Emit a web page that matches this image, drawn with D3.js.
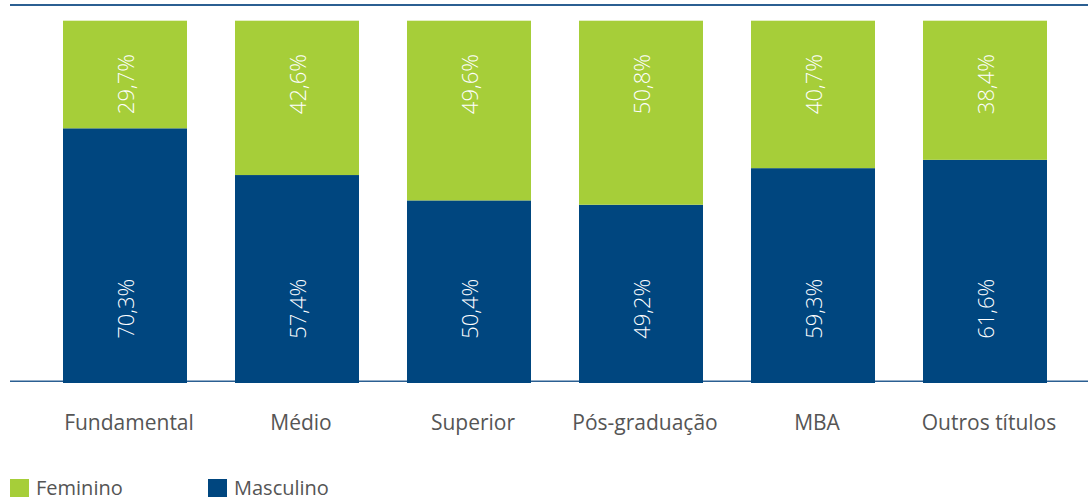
<!DOCTYPE html>
<html>
<head>
<meta charset="utf-8">
<script src="https://cdn.jsdelivr.net/npm/d3@7"></script>
<style>
  body { margin: 0; background: #fff; }
  svg { display: block; }
  text { font-family: "Open Sans", "Noto Sans", sans-serif; }
</style>
</head>
<body>
<div id="chart"></div>
<script>
// data
const categories = ["Fundamental", "Médio", "Superior", "Pós-graduação", "MBA", "Outros títulos"];
const masculino = [70.3, 57.4, 50.4, 49.2, 59.3, 61.6];
const feminino = [29.7, 42.6, 49.6, 50.8, 40.7, 38.4];
const seriesNames = ["Masculino", "Feminino"];

const width = 1088, height = 501;
const green = "#a6ce39", blue = "#00467f";

const svg = d3.select("#chart").append("svg")
    .attr("width", width)
    .attr("height", height);

const x = d3.scaleBand().domain(categories).range([39, 1071]).paddingInner(48 / 172).paddingOuter(24 / 172);
const y = d3.scaleLinear().domain([0, 100]).range([383, 20.7]);

const rows = categories.map((c, i) => ({ cat: c, Masculino: masculino[i], Feminino: feminino[i] }));
const stack = d3.stack().keys(seriesNames)(rows);
const color = d3.scaleOrdinal().domain(seriesNames).range([blue, green]);

// top rule + baseline
svg.append("line").attr("x1", 10).attr("x2", width).attr("y1", 5).attr("y2", 5)
    .attr("stroke", "#2b5f92").attr("stroke-width", 2);
svg.append("line").attr("x1", 10).attr("x2", width).attr("y1", 381.3).attr("y2", 381.3)
    .attr("stroke", "#2b5f92").attr("stroke-width", 1.5);

// bars
const layers = svg.selectAll("g.layer").data(stack).join("g")
    .attr("class", "layer")
    .attr("fill", d => color(d.key));

layers.selectAll("rect").data(d => d).join("rect")
    .attr("x", d => x(d.data.cat))
    .attr("width", x.bandwidth())
    .attr("y", d => y(d[1]))
    .attr("height", d => y(d[0]) - y(d[1]));

// value labels, rotated, at a fixed height per series
const labelY = { Masculino: y(20.5), Feminino: y(82.5) };
const fmt = v => v.toFixed(1).replace(".", ",") + "%";

layers.selectAll("text").data(d => d.map(p => ({ key: d.key, p }))).join("text")
    .attr("transform", d => `translate(${x(d.p.data.cat) + x.bandwidth() / 2 + 1}, ${labelY[d.key]}) rotate(-90)`)
    .attr("text-anchor", "middle")
    .attr("dy", "0.36em")
    .attr("fill", "#fff")
    .attr("font-size", 22)
    .attr("font-weight", 300)
    .text(d => fmt(d.p[1] - d.p[0]));

// category labels
svg.append("g").selectAll("text").data(categories).join("text")
    .attr("x", d => x(d) + x.bandwidth() / 2 + 4)
    .attr("y", 430)
    .attr("text-anchor", "middle")
    .attr("fill", "#555")
    .attr("font-size", 21)
    .text(d => d);

// legend
const legendItems = ["Feminino", "Masculino"];
const legend = svg.append("g").selectAll("g").data(legendItems).join("g")
    .attr("transform", (d, i) => `translate(${10 + i * 198}, 479)`);
legend.append("rect").attr("width", 19).attr("height", 18).attr("fill", d => color(d));
legend.append("text").attr("x", 26).attr("y", 16)
    .attr("fill", "#555").attr("font-size", 20)
    .text(d => d);
</script>
</body>
</html>
